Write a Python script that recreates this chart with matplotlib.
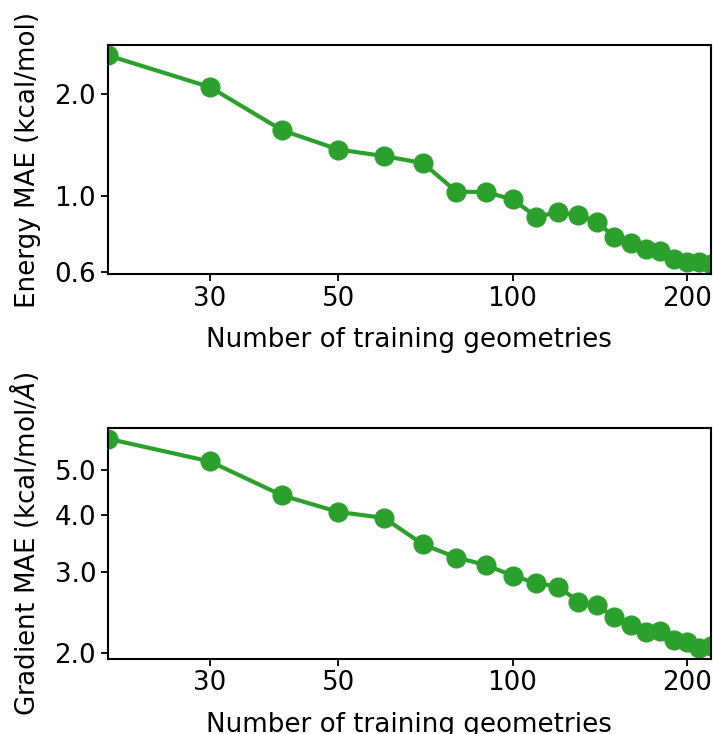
import numpy as np
import matplotlib
matplotlib.use("Agg")
import matplotlib.pyplot as plt
from matplotlib.ticker import NullLocator, FixedLocator, FixedFormatter

n_train = [20, 30, 40, 50, 60, 70, 80, 90, 100, 110, 120, 130, 140, 150,
           160, 170, 180, 190, 200, 210, 220]
energy_mae = [2.59, 2.09, 1.56, 1.37, 1.31, 1.25, 1.03, 1.027, 0.977, 0.869,
              0.896, 0.878, 0.840, 0.756, 0.727, 0.699, 0.690, 0.652, 0.642,
              0.642, 0.633]
grad_mae = [5.86, 5.23, 4.41, 4.06, 3.94, 3.45, 3.23, 3.11, 2.95, 2.84, 2.79,
            2.59, 2.54, 2.40, 2.30, 2.22, 2.23, 2.14, 2.11, 2.05, 2.07]

x_ticks = [30, 50, 100, 200]
energy_ticks = [0.6, 1.0, 2.0]
grad_ticks = [2.0, 3.0, 4.0, 5.0]

plt.rcParams['font.size'] = 18.8
plt.rcParams['axes.linewidth'] = 1.5
plt.rcParams['xtick.major.size'] = 5
plt.rcParams['ytick.major.size'] = 5
plt.rcParams['xtick.major.width'] = 1.3
plt.rcParams['ytick.major.width'] = 1.3

fig = plt.figure(figsize=(7.13, 7.34), dpi=100)
ax1 = fig.add_axes([0.1515, 0.6267, 0.8453, 0.312])
ax2 = fig.add_axes([0.1515, 0.1026, 0.8453, 0.3139])

panels = [
    (ax1, energy_mae, energy_ticks, "Energy MAE (kcal/mol)"),
    (ax2, grad_mae, grad_ticks, r"Gradient MAE (kcal/mol/$\AA$)"),
]

for ax, vals, yt, lab in panels:
    ax.plot(n_train, vals, '-o', color='tab:green', lw=3, ms=13.5)
    ax.set_xscale('log')
    ax.set_yscale('log')
    ax.set_xlim(20, 220)
    ax.xaxis.set_major_locator(FixedLocator(x_ticks))
    ax.xaxis.set_major_formatter(FixedFormatter([str(t) for t in x_ticks]))
    ax.xaxis.set_minor_locator(NullLocator())
    ax.yaxis.set_major_locator(FixedLocator(yt))
    ax.yaxis.set_major_formatter(FixedFormatter(["%.1f" % t for t in yt]))
    ax.yaxis.set_minor_locator(NullLocator())
    ax.set_xlabel("Number of training geometries", labelpad=11)
    ax.set_ylabel(lab, labelpad=10)

fig.savefig("out.png", dpi=100)
